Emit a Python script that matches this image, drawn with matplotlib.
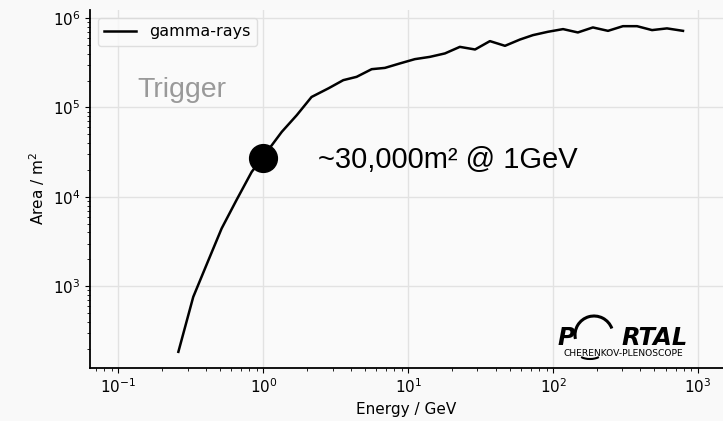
import matplotlib
matplotlib.use('Agg')
import matplotlib.pyplot as plt
import matplotlib.patches as patches

# effective area of trigger for gamma-rays
energy_gev = [0.259, 0.328, 0.411, 0.515, 0.652, 0.830, 1.04, 1.34, 1.70, 2.15,
              2.82, 3.56, 4.40, 5.59, 6.90, 8.77, 11.1, 14.1, 17.9, 22.7,
              28.9, 36.6, 46.5, 59.0, 72.5, 92.0, 117, 148, 188, 239,
              303, 379, 481, 610, 787]
area_m2 = [185, 760, 1840, 4430, 9200, 19000, 30800, 53400, 82000, 131000,
           164000, 202000, 220000, 268000, 277000, 311000, 347000, 368000, 402000, 476000,
           445000, 552000, 489000, 575000, 644000, 702000, 752000, 690000, 785000, 719000,
           811000, 811000, 733000, 766000, 719000]

marker_energy = [1.0]
marker_area = [27300]

xlim = (0.0636, 1486)
ylim = (122, 1.23e6)

fig = plt.figure(figsize=(7.23, 4.21), dpi=100, facecolor='#f9f9f9')
ax = fig.add_axes([90/723, 53/421, 633/723, 358/421])
ax.set_facecolor('#fafafa')

ax.plot(energy_gev, area_m2, color='black', lw=1.8, label='gamma-rays')
ax.plot(marker_energy, marker_area, 'o', color='black', ms=20)

ax.set_xscale('log')
ax.set_yscale('log')
ax.set_xlim(*xlim)
ax.set_ylim(*ylim)
ax.grid(True, which='major', color='#e2e2e2', lw=1)
ax.set_axisbelow(True)

for s in ['top', 'right']:
    ax.spines[s].set_visible(False)
for s in ['left', 'bottom']:
    ax.spines[s].set_linewidth(1.3)

ax.tick_params(labelsize=11)
ax.set_xlabel('Energy / GeV', fontsize=11)
ax.set_ylabel('Area / m$^2$', fontsize=11)

leg = ax.legend(loc='upper left', fontsize=11.5, frameon=True, fancybox=True)
leg.get_frame().set_edgecolor('#d8d8d8')
leg.get_frame().set_facecolor('#fafafa')

ax.text(0.274, 1.55e5, 'Trigger', fontsize=20.5, color='#999999',
        family=['Liberation Sans', 'DejaVu Sans'], ha='center', va='center')
ax.text(2.38, 2.57e4, '~30,000m² @ 1GeV', fontsize=21, color='black',
        family=['Liberation Sans', 'DejaVu Sans'], ha='left', va='center')

# PORTAL logo, drawn in figure pixels
W, H = 723, 421
def fx(x): return x / W
def fy(y): return 1 - y / H

fig.text(fx(558), fy(345), 'P', fontsize=17, fontweight='bold', style='italic',
         family='DejaVu Sans', ha='left', va='baseline')
fig.text(fx(688), fy(345), 'RTAL', fontsize=17.5, fontweight='bold', style='italic',
         family='DejaVu Sans', ha='right', va='baseline')
fig.text(fx(623.5), fy(354), 'CHERENKOV-PLENOSCOPE', fontsize=6.6,
         family='DejaVu Sans', ha='center', va='center')
arc = patches.Arc((fx(594), fy(335)), 38/W, 38/H, theta1=32, theta2=200,
                  transform=fig.transFigure, color='black', lw=2.2)
fig.add_artist(arc)
arc2 = patches.Arc((fx(590), fy(354)), 22/W, 10/H, theta1=210, theta2=330,
                   transform=fig.transFigure, color='black', lw=1.5)
fig.add_artist(arc2)

fig.savefig('out.png', dpi=100, facecolor=fig.get_facecolor())
